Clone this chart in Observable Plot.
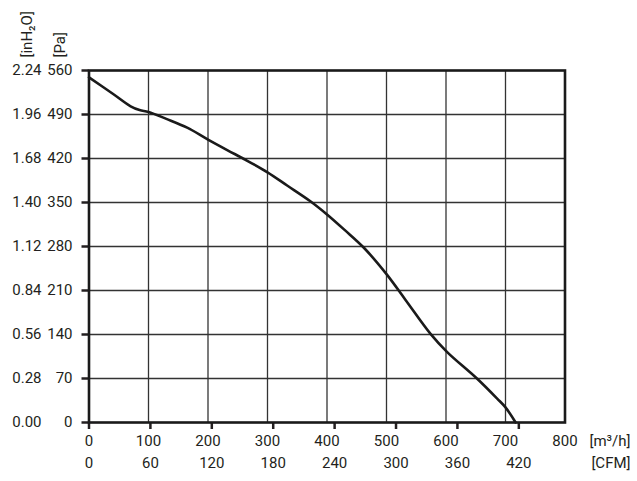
<!DOCTYPE html>
<html><head>
<meta charset="utf-8">
<script src="https://cdn.jsdelivr.net/npm/d3@7"></script>
<script src="https://cdn.jsdelivr.net/npm/@observablehq/plot@0.6"></script>
<style>body{margin:0;background:#fff}</style>
</head><body><div id="chart"></div>
<script>
// Airflow (m³/h) and static pressure (Pa)
const flow =     [0,   40,  70,  85,  100, 130, 165, 200, 233, 263, 300, 333, 372, 400, 430, 462, 500, 532, 574, 602, 652, 686, 700, 717];
const pressure = [549, 523, 503, 497, 494, 483, 469, 450, 433, 418, 398, 377, 352, 331, 306, 278, 236, 195, 141, 112, 70,  38,  24,  0];
const paTicks = [0, 70, 140, 210, 280, 350, 420, 490, 560];
const flowTicks = [0, 100, 200, 300, 400, 500, 600, 700, 800];
const cfmTicks = [0, 60, 120, 180, 240, 300, 360, 420];
const PA_PER_INH2O = 250;
const M3H_PER_CFM = 1.72;

const data = flow.map((x, i) => ({x, y: pressure[i]}));
const ink = "#231f20";

const chart = Plot.plot({
  width: 637, height: 481,
  marginLeft: 88.5, marginRight: 72.5, marginTop: 70, marginBottom: 59,
  style: {fontFamily: "Roboto, sans-serif", fontSize: "15px", color: ink, background: "#fff"},
  x: {domain: [0, 800], label: null},
  y: {domain: [0, 560], label: null},
  marks: [
    Plot.gridX(flowTicks.slice(1, -1), {stroke: "#333", strokeOpacity: 1, strokeWidth: 1.3}),
    Plot.gridY(paTicks.slice(1, -1), {stroke: "#333", strokeOpacity: 1, strokeWidth: 1.3}),
    Plot.line(data, {x: "x", y: "y", curve: "catmull-rom", stroke: "#1a1a1a", strokeWidth: 2.6}),
    Plot.axisY(paTicks, {tickSize: 7, tickPadding: 9.5, strokeWidth: 2.5, stroke: ink, label: null}),
    Plot.axisY(paTicks, {tickSize: 0, tickPadding: 47.5, tickFormat: d => (d / PA_PER_INH2O).toFixed(2), label: null}),
    Plot.axisX(flowTicks, {tickSize: 0, tickPadding: 13, label: null}),
    Plot.axisX(cfmTicks.map(c => c * M3H_PER_CFM), {tickSize: 7, tickPadding: 27.7, strokeWidth: 2.5, stroke: ink, tickFormat: d => Math.round(d / M3H_PER_CFM), label: null}),
    Plot.frame({stroke: "#1a1a1a", strokeWidth: 2.6}),
    Plot.text(["[m³/h]"], {frameAnchor: "bottom-right", textAnchor: "end", lineAnchor: "middle", dx: 65.5, dy: 18.5, fill: ink}),
    Plot.text(["[CFM]"], {frameAnchor: "bottom-right", textAnchor: "end", lineAnchor: "middle", dx: 65.5, dy: 40.5, fill: ink}),
    Plot.text(["[inH₂O]"], {frameAnchor: "top-left", rotate: -90, textAnchor: "start", lineAnchor: "middle", dx: -61.5, dy: -13, fill: ink}),
    Plot.text(["[Pa]"], {frameAnchor: "top-left", rotate: -90, textAnchor: "start", lineAnchor: "middle", dx: -28.5, dy: -13, fill: ink})
  ]
});
document.getElementById("chart").append(chart);
</script>
</body></html>
